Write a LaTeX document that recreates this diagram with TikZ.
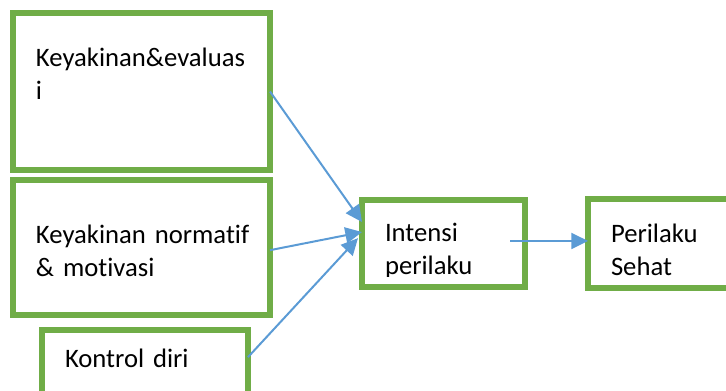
\documentclass[tikz,border=0pt]{standalone}
\usepackage{fontspec}
\setmainfont{Carlito}[Ligatures=NoCommon]
\usetikzlibrary{positioning,arrows.meta}

\definecolor{boxgreen}{HTML}{70AD47}
\definecolor{arrblue}{HTML}{5B9BD5}

\begin{document}
\begin{tikzpicture}
[x=0.75pt,y=-0.75pt,
 box/.style={rectangle,draw=boxgreen,line width=4.5pt,fill=white,inner sep=0mm,outer sep=0mm},
 txt/.style={anchor=base west,inner sep=0mm,outer sep=0mm,text width=200pt,align=left,
             font=\fontsize{20}{24.75}\selectfont},
 arr/.style={arrblue,line width=1.5pt,-{Triangle[length=12.5pt,width=12pt]}}]

\useasboundingbox (0,0) rectangle (726,390);

% boxes
\node[box,minimum width=192.75pt,minimum height=117.75pt] (k1) at (141.5,91.5) {};
\node[box,minimum width=192.75pt,minimum height=101.25pt] (k2) [on grid,below=117pt of k1] {};
\node[box,minimum width=154.5pt,minimum height=48.75pt]   (k3) [on grid,below right=86.25pt and 2.6pt of k2] {};
\node[box,minimum width=122.25pt,minimum height=65.25pt]  (int) [on grid,above right=3pt and 226.5pt of k2] {};
\node[box,minimum width=114pt,minimum height=66.75pt]     (per) [on grid,right=165.4pt of int] {};

% texts
\node[txt] (t1) at (36,66)  {Keyakinan\&evaluas\\i};
\node[txt] (t2) at (36,243) {Keyakinan normatif\\\& motivasi};
\node[txt] (t3) at (65,367) {Kontrol diri};
\begin{scope}
  \clip (362,200) rectangle (525,276.5);
  \node[txt] (t4) at (385,241) {Intensi\\perilaku};
\end{scope}
\node[txt] (t5) at (611,242) {Perilaku\\Sehat};

% arrows
\draw[arr] (k1.east) -- ([yshift=16.1pt]int.west);
\draw[arr] ([yshift=-2pt]k2.east) -- ([yshift=8.6pt]int.west);
\draw[arr] ([yshift=4pt]k3.east) -- ([xshift=-3pt,yshift=4pt]int.west);
\coordinate (s) at ([xshift=-11.25pt,yshift=1.9pt]int.east);
\draw[arr] (s) -- (s -| per.west);

\end{tikzpicture}
\end{document}
